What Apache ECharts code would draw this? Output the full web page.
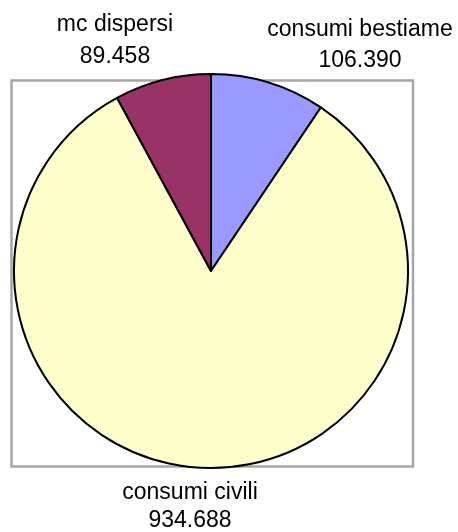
<!DOCTYPE html>
<html>
<head>
<meta charset="utf-8">
<style>
  html, body { margin: 0; padding: 0; background: #fff; }
  #main { width: 458px; height: 532px; }
</style>
<script src="https://cdn.jsdelivr.net/npm/echarts@6/dist/echarts.min.js"></script>
</head>
<body>
<div id="main"></div>
<script>
// dati del grafico (mc d'acqua)
var categories = ['consumi bestiame', 'consumi civili', 'mc dispersi'];
var values = [106390, 934688, 89458];
var colors = ['#9999FF', '#FFFFCC', '#993366'];

// posizione delle etichette, come nel riferimento
var labelPos = [
    { x: 360, y: 45, lh: 31 },
    { x: 190, y: 507, lh: 28 },
    { x: 115, y: 41, lh: 32 }
];

function fmt(v) {
    // separatore delle migliaia all'italiana
    return String(v).replace(/\B(?=(\d{3})+(?!\d))/g, '.');
}

var myChart = echarts.init(document.getElementById('main'));

var data = [];
for (var i = 0; i < categories.length; i++) {
    data.push({
        name: categories[i],
        value: values[i],
        itemStyle: { color: colors[i] },
        label: { lineHeight: labelPos[i].lh }
    });
}

var option = {
    animation: false,
    graphic: [{
        type: 'rect',
        z: -10,
        shape: { x: 11.5, y: 80.5, width: 401.5, height: 386 },
        style: { fill: '#fff', stroke: '#A6A6A6', lineWidth: 2.5 }
    }],
    series: [{
        type: 'pie',
        center: [211, 271],
        radius: 197,
        startAngle: 90,
        clockwise: true,
        avoidLabelOverlap: false,
        itemStyle: { borderColor: '#000', borderWidth: 2 },
        label: {
            show: true,
            position: 'outside',
            color: '#000',
            fontFamily: 'Liberation Sans, Arial, sans-serif',
            fontSize: 23,
            formatter: function (p) { return p.name + '\n' + fmt(p.value); }
        },
        labelLine: { show: false },
        labelLayout: function (p) {
            var lp = labelPos[p.dataIndex];
            return { x: lp.x, y: lp.y, align: 'center', verticalAlign: 'middle' };
        },
        emphasis: { disabled: true },
        data: data
    }]
};

myChart.setOption(option);
</script>
</body>
</html>
